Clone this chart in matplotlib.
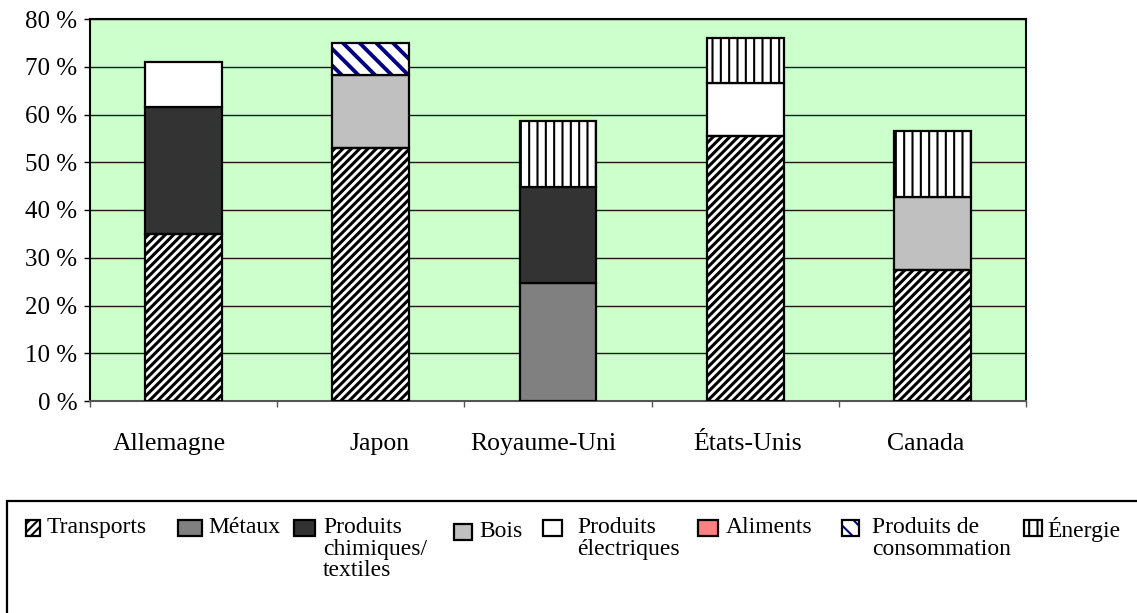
import matplotlib
matplotlib.use("Agg")
import matplotlib.pyplot as plt
from matplotlib.patches import Rectangle
from matplotlib.ticker import FixedLocator, FuncFormatter
from matplotlib.transforms import ScaledTranslation
import numpy as np

# ---- data -------------------------------------------------------------
countries = ["Allemagne", "Japon", "Royaume-Uni", "États-Unis", "Canada"]

transports   = [35.0, 53.0, 0.0, 55.5, 27.5]
metaux       = [0.0, 0.0, 24.8, 0.0, 0.0]
chimiques    = [26.6, 0.0, 20.0, 0.0, 0.0]
bois         = [0.0, 15.3, 0.0, 0.0, 15.3]
electriques  = [9.4, 0.0, 0.0, 11.1, 0.0]
aliments     = [0.0, 0.0, 0.0, 0.0, 0.0]
consommation = [0.0, 6.7, 0.0, 0.0, 0.0]
energie      = [0.0, 0.0, 13.8, 9.4, 13.8]

series_labels = ["Transports", "Métaux", "Produits\nchimiques/\ntextiles", "Bois",
                 "Produits\nélectriques", "Aliments", "Produits de\nconsommation", "Énergie"]
y_ticks = [0, 10, 20, 30, 40, 50, 60, 70, 80]

# ---- styles (face, hatch, hatch colour, hatch width) ---------------------
styles = [
    dict(face="white",   hatch="////", hcol="black",   hlw=2.2),
    dict(face="#808080", hatch=None,   hcol="black",   hlw=1.0),
    dict(face="#333333", hatch=None,   hcol="black",   hlw=1.0),
    dict(face="#C0C0C0", hatch=None,   hcol="black",   hlw=1.0),
    dict(face="white",   hatch=None,   hcol="black",   hlw=1.0),
    dict(face="#FF8080", hatch=None,   hcol="black",   hlw=1.0),
    dict(face="white",   hatch="\\\\", hcol="#000080", hlw=2.8),
    dict(face="white",   hatch="||",   hcol="black",   hlw=1.5),
]
series = [transports, metaux, chimiques, bois, electriques, aliments, consommation, energie]

plt.rcParams["font.family"] = ["Liberation Serif", "DejaVu Serif"]

W, H = 1137, 613
fig = plt.figure(figsize=(W / 100, H / 100), dpi=100)
ax = fig.add_axes([90 / W, 1 - 401 / H, (1026 - 90) / W, (401 - 19) / H])
ax.set_facecolor("#CCFFCC")

x = np.arange(len(countries))
bar_w = 0.41
bottom = np.zeros(len(countries))


def set_hatch_width(artists, lw):
    for p in artists:
        if hasattr(p, "set_hatch_linewidth"):
            p.set_hatch_linewidth(lw)


for vals, st in zip(series, styles):
    vals = np.asarray(vals, dtype=float)
    idx = np.nonzero(vals)[0]
    if len(idx):
        with plt.rc_context({"hatch.linewidth": st["hlw"]}):
            if st["hatch"]:
                # hatch layer in its own colour, then a black outline on top
                b1 = ax.bar(x[idx], vals[idx], bar_w, bottom=bottom[idx],
                            color=st["face"], edgecolor=st["hcol"], linewidth=0,
                            hatch=st["hatch"], zorder=3)
                set_hatch_width(b1, st["hlw"])
                ax.bar(x[idx], vals[idx], bar_w, bottom=bottom[idx],
                       fill=False, edgecolor="black", linewidth=1.6, zorder=4)
            else:
                ax.bar(x[idx], vals[idx], bar_w, bottom=bottom[idx],
                       color=st["face"], edgecolor="black", linewidth=1.6, zorder=3)
    bottom += vals

ax.set_xlim(-0.5, len(countries) - 0.5)
ax.set_ylim(0, 80)
ax.set_yticks(y_ticks)
ax.yaxis.set_major_formatter(FuncFormatter(lambda v, p: f"{int(v)} %"))
ax.yaxis.grid(True, color="#1a1a1a", linewidth=1.0, zorder=1)
ax.set_axisbelow(True)

ax.set_xticks(x)
ax.set_xticklabels(countries)
ax.xaxis.set_minor_locator(FixedLocator(np.arange(-0.5, len(countries), 1.0)))
ax.tick_params(axis="x", which="major", length=0, pad=23, labelsize=18.5)
ax.tick_params(axis="x", which="minor", length=4.5, width=1.0, color="#555555", direction="out")
ax.tick_params(axis="y", which="major", length=4, width=1.0, direction="out", pad=5, labelsize=18)

# category labels sit slightly off the bar centres (offsets in pixels)
label_dx = [-14, 9, -15, 2, -7]
for lab, dx in zip(ax.get_xticklabels(), label_dx):
    lab.set_transform(lab.get_transform() + ScaledTranslation(dx / 100, 0, fig.dpi_scale_trans))

for s in ax.spines.values():
    s.set_color("black")
    s.set_linewidth(1.5)
ax.spines["bottom"].set_color("#555555")

# ---- legend box, drawn in pixel positions of the figure -----------------
def fx(px):
    return px / W


def fy(py):
    return 1 - py / H


fig.add_artist(Rectangle((fx(7), fy(640)), fx(1200) - fx(7), fy(501) - fy(640),
                         transform=fig.transFigure, fill=False, edgecolor="black",
                         linewidth=1.6, clip_on=False))

marker_x = [26, 178, 294, 454, 543, 698, 842, 1024]
marker_w = [14, 24, 21, 18, 19, 20, 17, 18]
text_x = [47, 208, 323, 479, 577, 726, 872, 1047]
y_shift = [0, 0, 0, 4, 0, 0, 0, 0]

for i, (lab, st) in enumerate(zip(series_labels, styles)):
    top = 520 + y_shift[i]
    h = 16
    with plt.rc_context({"hatch.linewidth": min(st["hlw"], 1.5)}):
        r = Rectangle((fx(marker_x[i]), fy(top + h)), fx(marker_w[i]), h / H,
                      transform=fig.transFigure, facecolor=st["face"],
                      edgecolor=st["hcol"] if st["hatch"] else "black",
                      hatch=st["hatch"], linewidth=0 if st["hatch"] else 1.6)
        fig.add_artist(r)
    if st["hatch"]:
        fig.add_artist(Rectangle((fx(marker_x[i]), fy(top + h)), fx(marker_w[i]), h / H,
                                 transform=fig.transFigure, fill=False,
                                 edgecolor="black", linewidth=1.6))
    fig.text(fx(text_x[i]), fy(top - 3), lab, ha="left", va="top",
             fontsize=17, linespacing=1.04)

fig.savefig("out.png", dpi=100)
